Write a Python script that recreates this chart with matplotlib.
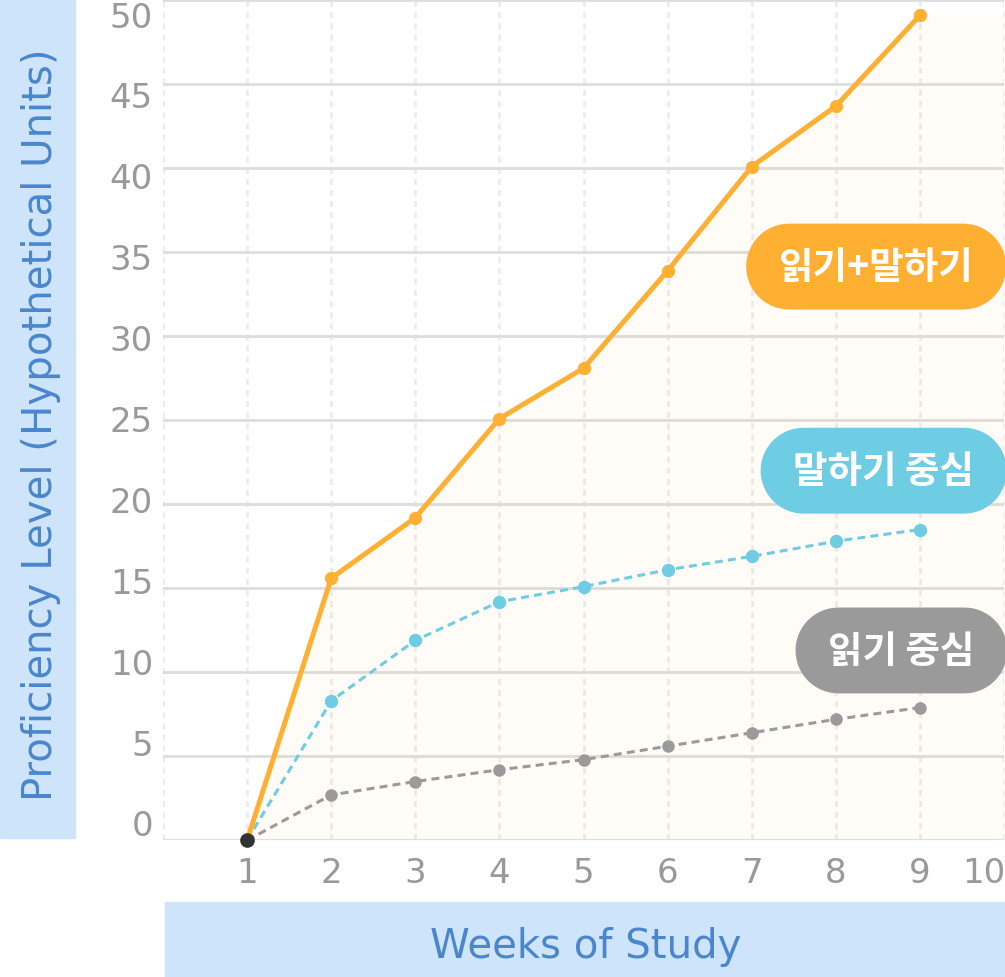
import numpy as np
import matplotlib.pyplot as plt
from matplotlib.patches import Rectangle
from matplotlib.path import Path
from matplotlib.transforms import ScaledTranslation

# weeks and the three learning tracks
weeks = [1, 2, 3, 4, 5, 6, 7, 8, 9]
read_speak = [0, 15.6, 19.2, 25.1, 28.1, 33.9, 40.1, 43.7, 49.1]
speak_focus = [0, 8.3, 11.9, 14.2, 15.1, 16.1, 16.9, 17.8, 18.5]
read_focus = [0, 2.7, 3.5, 4.2, 4.8, 5.6, 6.4, 7.2, 7.9]

x_ticks = list(range(0, 11))
x_labels = [str(v) for v in range(1, 11)]
y_ticks = list(range(0, 51, 5))

series_labels = ["읽기+말하기", "말하기 중심", "읽기 중심"]

ORANGE = "#ffb033"
BLUE = "#6fcde3"
GRAY = "#9a9a9a"
TICK = "#999999"
LABEL_BLUE = "#4a86cc"
BOX_BLUE = "#cde4fb"

plt.rcParams['font.family'] = ['DejaVu Sans']


def pill(x0, y0, width, height, mutation_size):
    # capsule shape around the text box
    px = 0.87 * mutation_size
    h = 2.29 * mutation_size
    r = h / 2
    yc = y0 + height / 2
    left = x0 - px + r
    right = x0 + width + px - r
    t1 = np.linspace(-np.pi / 2, np.pi / 2, 30)
    t2 = np.linspace(np.pi / 2, 3 * np.pi / 2, 30)
    xs = np.concatenate([right + r * np.cos(t1), left + r * np.cos(t2)])
    ys = np.concatenate([yc + r * np.sin(t1), yc + r * np.sin(t2)])
    verts = np.column_stack([xs, ys])
    verts = np.vstack([verts, verts[:1]])
    return Path(verts, closed=True)


fig = plt.figure(figsize=(10.05, 9.78), dpi=100)
ax = fig.add_axes([163 / 1005, 136.7 / 978, 841 / 1005, 840 / 978])
ax.set_xlim(0, 10)
ax.set_ylim(0, 50)

# axis title boxes
fig.patches.append(Rectangle((0, 139 / 978), 75 / 1005, 1, transform=fig.transFigure,
                             color=BOX_BLUE, zorder=0))
fig.patches.append(Rectangle((165 / 1005, 0), 840 / 1005, 75 / 978, transform=fig.transFigure,
                             color=BOX_BLUE, zorder=0))
fig.text(52 / 1005, (978 - 425) / 978, "Proficiency Level (Hypothetical Units)",
         rotation=90, rotation_mode='anchor', ha='center', va='baseline',
         fontsize=29, color=LABEL_BLUE)
fig.text(586 / 1005, 20 / 978, "Weeks of Study", ha='center', va='baseline',
         fontsize=29, color=LABEL_BLUE)

# grid
ax.set_xticks(x_ticks)
ax.set_yticks(y_ticks)
ax.set_axisbelow(True)
ax.yaxis.grid(True, color="#dddddd", lw=2)
ax.xaxis.grid(True, color="#ececec", lw=2, linestyle=(0, (2.2, 1.8)))
ax.tick_params(length=0, labelbottom=False, labelleft=False)
for s in ax.spines.values():
    s.set_visible(False)

# tick labels drawn as text so they sit like the reference
for v in y_ticks:
    dy = (14.3 - 0.62 * v) / 100
    tr = ax.get_yaxis_transform() + ScaledTranslation(-10 / 100, dy, fig.dpi_scale_trans)
    ax.text(0, v, str(v), transform=tr, ha='right', va='center', fontsize=24.5,
            color=TICK, clip_on=False)
for i, lab in enumerate(x_labels):
    xv = i + 1
    dx = -20 / 100 if lab == "10" else 0
    tr = ax.get_xaxis_transform() + ScaledTranslation(dx, -32 / 100, fig.dpi_scale_trans)
    ax.text(xv, 0, lab, transform=tr, ha='center', va='center', fontsize=24.5,
            color=TICK, clip_on=False)

# cream area under the top line, carried on to the right edge
fill_x = weeks + [10]
fill_y = read_speak + [read_speak[-1]]
ax.fill_between(fill_x, fill_y, 0, color=ORANGE, alpha=0.045, lw=0, zorder=1)

ax.plot(weeks, read_focus, color=GRAY, lw=2.2, dashes=(2.6, 1.7), marker='o',
        markersize=8, zorder=3, clip_on=False)
ax.plot(weeks, speak_focus, color=BLUE, lw=2.2, dashes=(2.6, 1.7), marker='o',
        markersize=8.6, zorder=3, clip_on=False)
ax.plot(weeks, read_speak, color=ORANGE, lw=3.6, marker='o', markersize=8.5,
        zorder=4, clip_on=False)
ax.plot(weeks[:1], read_speak[:1], 'o', color="#333333", markersize=9.5, zorder=5,
        clip_on=False)

# pill labels
pills = [(0.848, 0.683, ORANGE), (0.857, 0.440, BLUE), (0.878, 0.226, GRAY)]
for lab, (px, py, c) in zip(series_labels, pills):
    ax.text(px, py, lab, transform=ax.transAxes, ha='center', va='center',
            fontsize=27, fontweight='bold', color='white',
            family=['Noto Sans CJK KR', 'DejaVu Sans'], clip_on=False, zorder=6,
            bbox=dict(boxstyle=pill, fc=c, ec='none'))

fig.savefig("out.png", dpi=100)
